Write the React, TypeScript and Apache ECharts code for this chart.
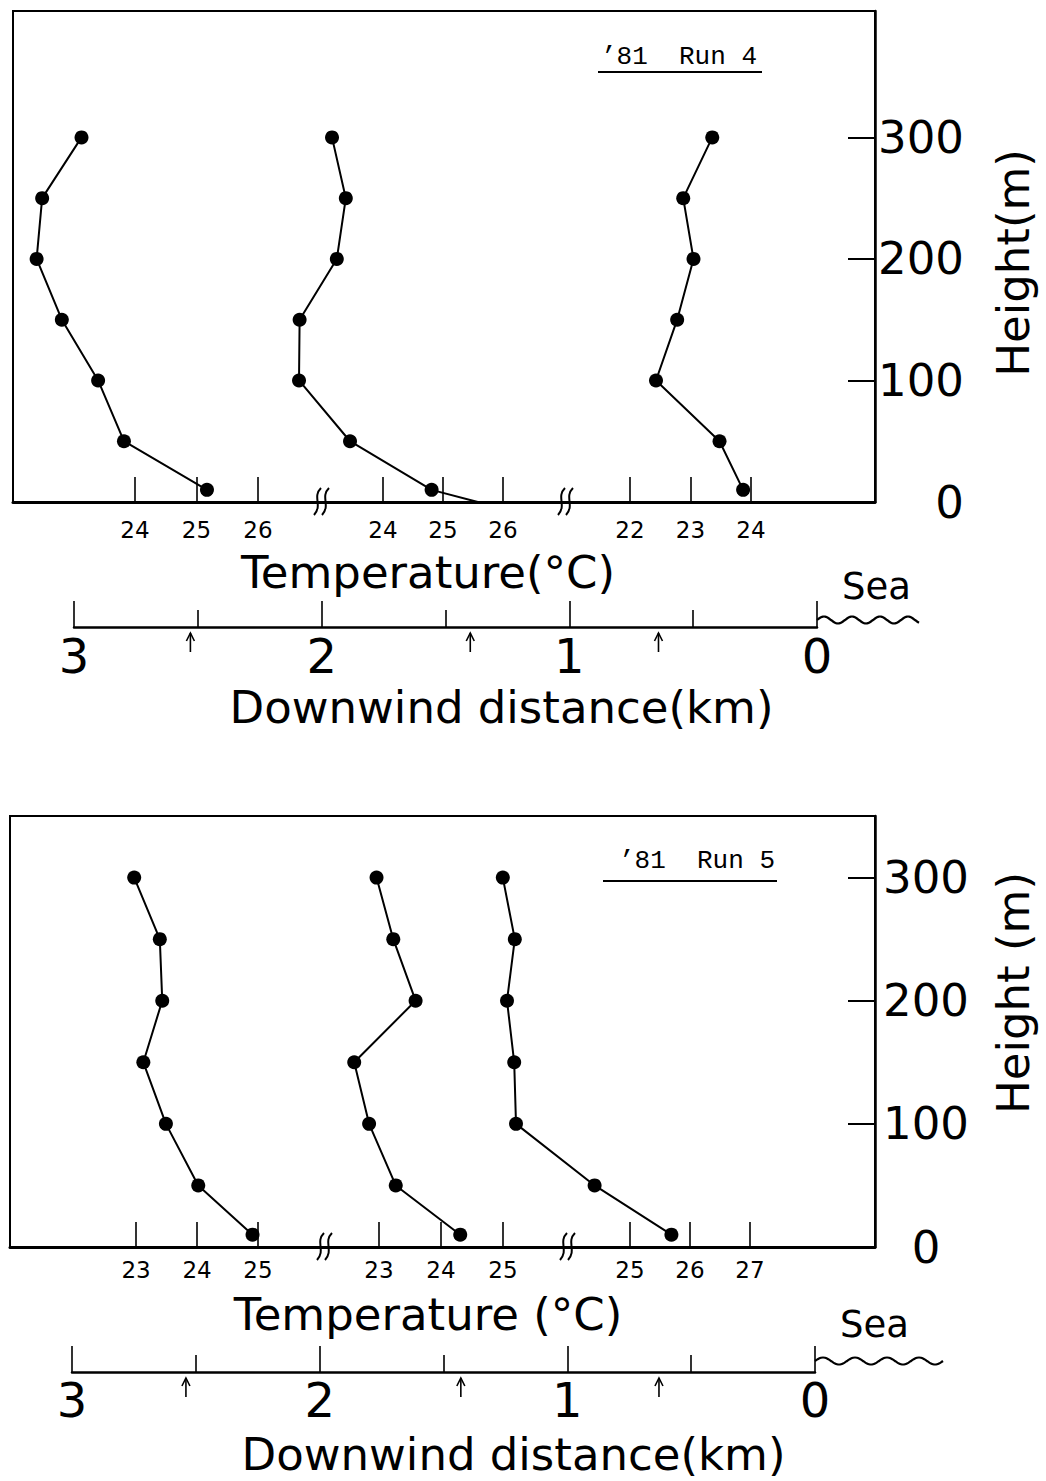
import React, { useEffect, useRef } from "react";
import * as echarts from "echarts";

// ---------- data ----------
const heights = [300, 250, 200, 150, 100, 50, 10];

// '81 Run 4 (upper panel), temperature (°C) of the three profiles
const run4Far = [23.13, 22.49, 22.4, 22.81, 23.4, 23.82, 25.17];
const run4Mid = [23.15, 23.38, 23.23, 22.61, 22.6, 23.45, 24.81];
const run4MidSurface = 25.58; // line drawn down to 0 m
const run4Near = [23.36, 22.88, 23.05, 22.78, 22.43, 23.48, 23.87];

// '81 Run 5 (lower panel)
const run5Far = [22.97, 23.39, 23.43, 23.12, 23.49, 24.02, 24.91];
const run5Mid = [22.96, 23.23, 23.59, 22.6, 22.84, 23.27, 24.31];
const run5Near = [22.88, 23.08, 22.95, 23.07, 23.1, 24.41, 25.69];

// temperature tick labels of each sub-scale
const run4Ticks = [[24, 25, 26], [24, 25, 26], [22, 23, 24]];
const run5Ticks = [[23, 24, 25], [23, 24, 25], [25, 26, 27]];

// temperature axis ranges (each sub-scale spans the full panel width)
const run4Ranges = [[22.016, 36.033], [17.833, 32.2], [11.802, 26.05]];
const run5Ranges = [[20.934, 35.115], [17.048, 31.0], [14.667, 29.083]];

const heightTicks = [100, 200, 300];
const heightLabels = [0, 100, 200, 300];

// downwind distance (km) of the three profiles (arrows)
const run4Arrows = [2.53, 1.4, 0.64];
const run5Arrows = [2.54, 1.43, 0.63];

const FONT = '"DejaVu Sans", sans-serif';
const MONO = '"Liberation Mono", "DejaVu Sans Mono", monospace';

function toPairs(temps: number[]) {
  return temps.map((t, i) => [t, heights[i]]);
}

function tempAxis(grid: number, range: number[], ticks: number[], first: boolean, labelMargin: number, name?: string, nameGap?: number, namePad?: number[]) {
  return {
    type: "value",
    gridIndex: grid,
    position: "bottom",
    min: range[0],
    max: range[1],
    axisLine: { show: first, onZero: false, lineStyle: { color: "#000", width: 3 } },
    axisTick: { show: true, inside: true, length: 25, customValues: ticks, lineStyle: { color: "#000", width: 1.6 } },
    axisLabel: { customValues: ticks, fontSize: 23, color: "#000", fontFamily: FONT, margin: labelMargin },
    splitLine: { show: false },
    name: name || "",
    nameLocation: "middle",
    nameGap: nameGap || 0,
    nameTextStyle: { fontSize: 45, color: "#000", fontFamily: FONT, padding: namePad || [0, 0, 0, 0] },
  };
}

function distAxis(grid: number, labelMargin: number, nameGap: number, namePad: number[]) {
  return {
    type: "value",
    gridIndex: grid,
    position: "bottom",
    min: 0,
    max: 3,
    interval: 1,
    inverse: true,
    axisLine: { show: true, onZero: false, lineStyle: { color: "#000", width: 2.5 } },
    axisTick: { show: true, inside: true, length: 26, lineStyle: { color: "#000", width: 1.6 } },
    minorTick: { show: true, splitNumber: 2, length: 17, lineStyle: { color: "#000", width: 1.6 } },
    axisLabel: { fontSize: 48, color: "#000", fontFamily: FONT, margin: labelMargin },
    splitLine: { show: false },
    name: "Downwind distance(km)",
    nameLocation: "middle",
    nameGap,
    nameTextStyle: { fontSize: 45, color: "#000", fontFamily: FONT, padding: namePad },
  };
}

function heightAxis(grid: number, max: number, name: string, align: string, margin: number, namePad: number[]) {
  return {
    type: "value",
    gridIndex: grid,
    position: "right",
    min: 0,
    max,
    axisLine: { show: true, lineStyle: { color: "#000", width: 2.5 } },
    axisTick: { show: true, inside: true, length: 27, customValues: heightTicks, lineStyle: { color: "#000", width: 2 } },
    axisLabel: { customValues: heightLabels, fontSize: 45, color: "#000", fontFamily: FONT, align, margin },
    splitLine: { show: false },
    name,
    nameLocation: "middle",
    nameRotate: 90,
    nameGap: 116,
    nameTextStyle: { fontSize: 45, color: "#000", fontFamily: FONT, padding: namePad },
  };
}

function profile(xi: number, yi: number, data: any[]) {
  return {
    type: "line",
    xAxisIndex: xi,
    yAxisIndex: yi,
    data,
    symbol: "circle",
    symbolSize: 14,
    clip: false,
    itemStyle: { color: "#000" },
    lineStyle: { color: "#000", width: 2 },
    z: 5,
  };
}

function arrows(xi: number, yi: number, dists: number[]) {
  return {
    type: "custom",
    xAxisIndex: xi,
    yAxisIndex: yi,
    data: dists.map((d) => [d, 0]),
    clip: false,
    renderItem: (params: any, api: any) => {
      const p = api.coord([api.value(0), 0]);
      return {
        type: "group",
        children: [
          { type: "line", shape: { x1: p[0], y1: p[1] + 25, x2: p[0], y2: p[1] + 6 }, style: { stroke: "#000", lineWidth: 1.6 } },
          { type: "polyline", shape: { points: [[p[0] - 4, p[1] + 14], [p[0], p[1] + 6], [p[0] + 4, p[1] + 14]] }, style: { stroke: "#000", fill: "none", lineWidth: 1.6 } },
        ],
      };
    },
  };
}

function wave(x0: number, x1: number, yc: number, amp: number, period: number) {
  const pts: number[][] = [];
  for (let x = x0; x <= x1; x += 2) {
    pts.push([x, yc - amp * Math.sin(((x - x0) / period) * Math.PI * 2)]);
  }
  return { type: "polyline", shape: { points: pts, smooth: 0.3 }, style: { stroke: "#000", fill: "none", lineWidth: 2.2 }, z: 10 };
}

function breakMark(cx: number, cy: number) {
  const one = (dx: number) => ({
    type: "bezierCurve",
    shape: { x1: cx + dx - 4, y1: cy + 14, x2: cx + dx + 3, y2: cy - 13, cpx1: cx + dx + 5, cpy1: cy + 4, cpx2: cx + dx - 6, cpy2: cy - 4 },
    style: { stroke: "#000", fill: "none", lineWidth: 2 },
    z: 10,
  });
  return [one(-4), one(4)];
}

export default function App() {
  const ref = useRef<HTMLDivElement>(null);
  useEffect(() => {
    document.body.style.margin = "0";
    const chart = echarts.init(ref.current!, null, { renderer: "svg" });
    const midData: any[] = toPairs(run4Mid);
    midData.push({ value: [run4MidSurface, 0], symbol: "none" });

    const option: any = {
      animation: false,
      backgroundColor: "#fff",
      grid: [
        { left: 13, top: 11, width: 862, height: 491, show: true, borderColor: "#000", borderWidth: 2, backgroundColor: "transparent" },
        { left: 10, top: 816, width: 865, height: 431, show: true, borderColor: "#000", borderWidth: 2, backgroundColor: "transparent" },
        { left: 74, top: 600, width: 743, height: 27, show: false },
        { left: 72, top: 1345, width: 743, height: 27, show: false },
      ],
      xAxis: [
        tempAxis(0, run4Ranges[0], run4Ticks[0], true, 16),
        tempAxis(0, run4Ranges[1], run4Ticks[1], false, 16, "Temperature(°C)", 48, [0, 32, 0, 0]),
        tempAxis(0, run4Ranges[2], run4Ticks[2], false, 16),
        tempAxis(1, run5Ranges[0], run5Ticks[0], true, 11),
        tempAxis(1, run5Ranges[1], run5Ticks[1], false, 11, "Temperature (°C)", 45, [0, 29, 0, 0]),
        tempAxis(1, run5Ranges[2], run5Ticks[2], false, 11),
        distAxis(2, 5, 58, [0, 0, 0, 112]),
        distAxis(3, 4, 60, [0, 0, 0, 140]),
      ],
      yAxis: [
        heightAxis(0, 404, "Height(m)", "right", 89, [0, 13, 0, 0]),
        heightAxis(1, 350, "Height (m)", "center", 51, [0, 0, 0, 77]),
        { type: "value", gridIndex: 2, min: 0, max: 1, show: false },
        { type: "value", gridIndex: 3, min: 0, max: 1, show: false },
      ],
      series: [
        profile(0, 0, toPairs(run4Far)),
        profile(1, 0, midData),
        profile(2, 0, toPairs(run4Near)),
        profile(3, 1, toPairs(run5Far)),
        profile(4, 1, toPairs(run5Mid)),
        profile(5, 1, toPairs(run5Near)),
        arrows(6, 2, run4Arrows),
        arrows(7, 3, run5Arrows),
      ],
      graphic: [
        { type: "text", x: 601, y: 44, style: { text: "’81  Run 4", font: `26px ${MONO}`, fill: "#000" }, z: 10 },
        { type: "line", shape: { x1: 598, y1: 72, x2: 762, y2: 72 }, style: { stroke: "#000", lineWidth: 2.2 }, z: 10 },
        { type: "text", x: 619, y: 848, style: { text: "’81  Run 5", font: `26px ${MONO}`, fill: "#000" }, z: 10 },
        { type: "line", shape: { x1: 603, y1: 881, x2: 777, y2: 881 }, style: { stroke: "#000", lineWidth: 2.2 }, z: 10 },
        { type: "text", x: 842, y: 568, style: { text: "Sea", font: `37px ${FONT}`, fill: "#000" }, z: 10 },
        { type: "text", x: 840, y: 1306, style: { text: "Sea", font: `37px ${FONT}`, fill: "#000" }, z: 10 },
        wave(817, 920, 620, 3.5, 28),
        wave(815, 944, 1361, 3.5, 32),
        ...breakMark(322, 501),
        ...breakMark(566, 501),
        ...breakMark(325, 1246),
        ...breakMark(568, 1246),
      ],
    };
    chart.setOption(option);
    return () => chart.dispose();
  }, []);
  return <div ref={ref} style={{ width: 1046, height: 1481 }} />;
}
